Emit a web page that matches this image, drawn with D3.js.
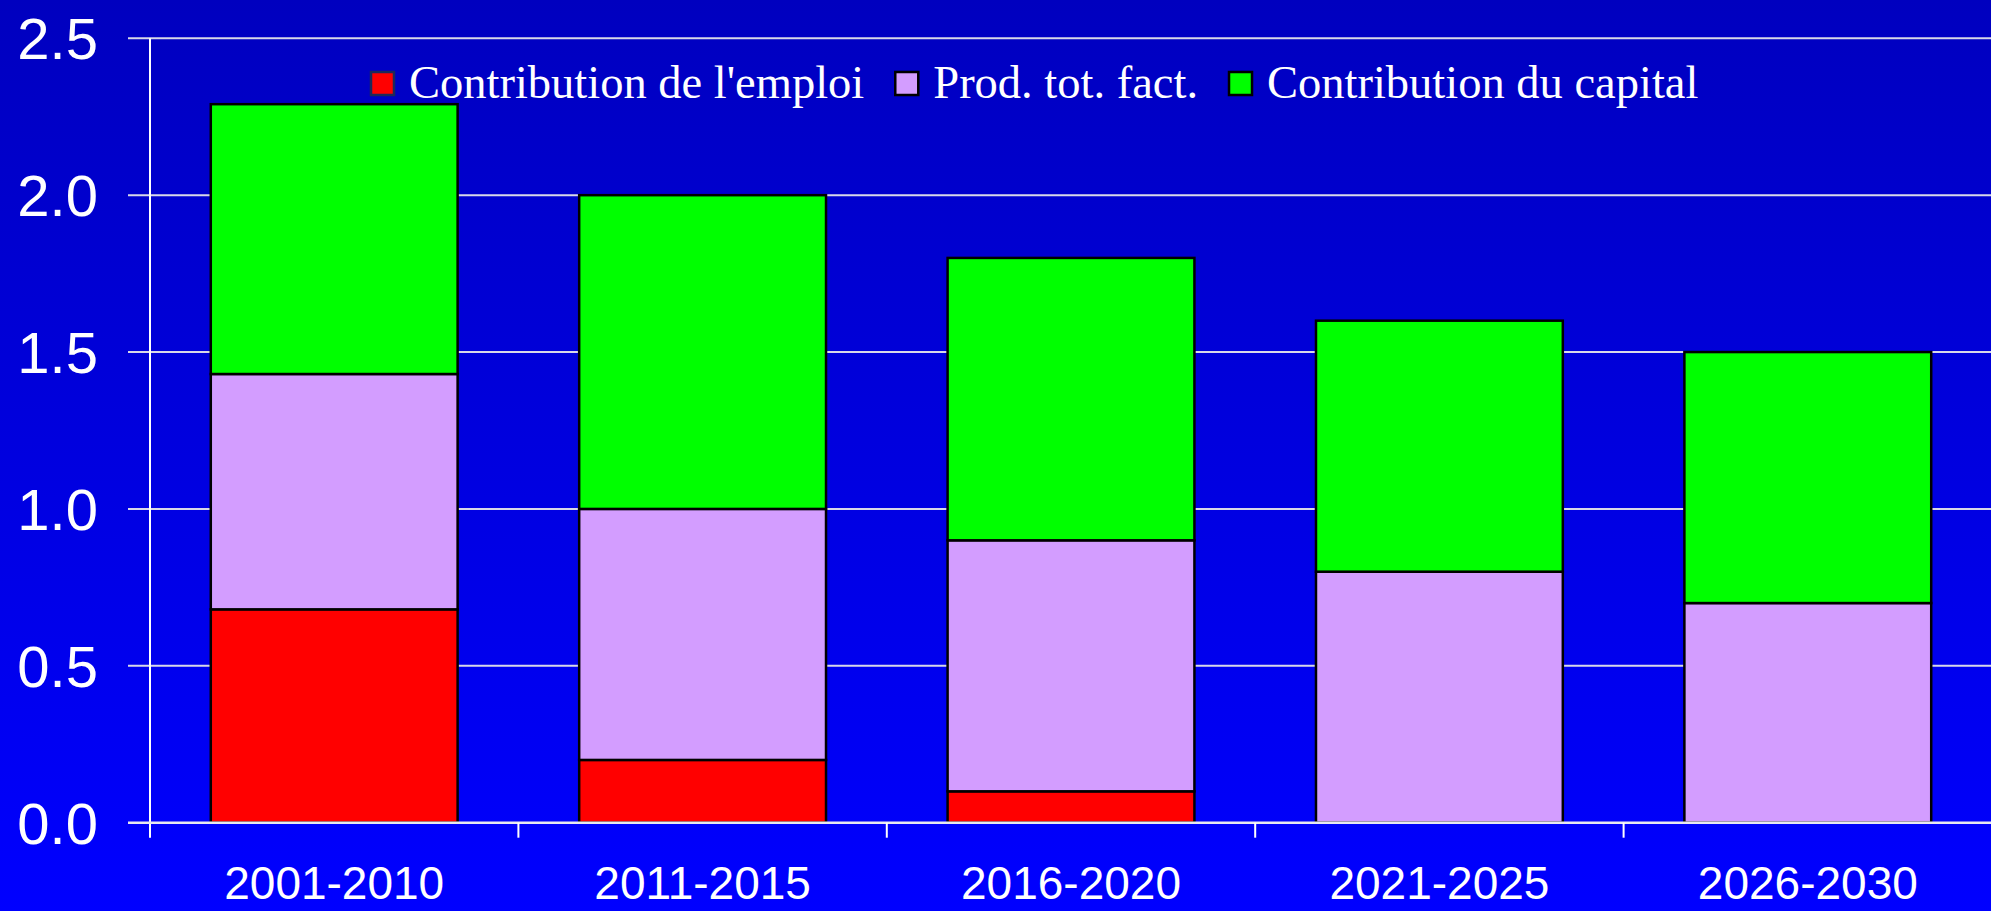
<!doctype html>
<html>
<head>
<meta charset="utf-8">
<style>
  body { margin: 0; overflow: hidden; }
  .tick text { fill: #fff; }
</style>
<script src="https://d3js.org/d3.v7.min.js"></script>
</head>
<body>
<svg width="1991" height="911"></svg>
<script>
// data
var categories = ["2001-2010", "2011-2015", "2016-2020", "2021-2025", "2026-2030"];
var emploi  = [0.68, 0.2, 0.1, 0, 0];
var ptf     = [0.75, 0.8, 0.8, 0.8, 0.7];
var capital = [0.86, 1.0, 0.9, 0.8, 0.8];
var seriesNames = ["Contribution de l'emploi", "Prod. tot. fact.", "Contribution du capital"];
var seriesColors = ["#ff0000", "#d39dff", "#00ff00"];
var yTicks = [0, 0.5, 1.0, 1.5, 2.0, 2.5];

var svg = d3.select("svg"),
    W = 1991, H = 911,
    plotLeft = 150, plotRight = 1992, plotTop = 38.3, plotBottom = 822.7;

// background: dark blue at the top to pure blue at the bottom
var defs = svg.append("defs");
var grad = defs.append("linearGradient").attr("id", "bg")
    .attr("x1", 0).attr("y1", 0).attr("x2", 0).attr("y2", 1);
grad.append("stop").attr("offset", "0%").attr("stop-color", "#0000bf");
grad.append("stop").attr("offset", "100%").attr("stop-color", "#0000ff");
svg.append("rect").attr("width", W).attr("height", H).attr("fill", "url(#bg)");

var x = d3.scaleBand().domain(categories).range([plotLeft, plotRight]).padding(0);
var y = d3.scaleLinear().domain([0, 2.5]).range([plotBottom, plotTop]);

// grid lines
svg.append("g").selectAll("line")
    .data(yTicks.filter(function(d) { return d > 0; }))
    .enter().append("line")
    .attr("x1", plotLeft - 22).attr("x2", W)
    .attr("y1", function(d) { return y(d); })
    .attr("y2", function(d) { return y(d); })
    .attr("stroke", "#d8d8e8").attr("stroke-width", 2);

// stacked bars
var table = categories.map(function(c, i) {
    return { cat: c, emploi: emploi[i], ptf: ptf[i], capital: capital[i] };
});
var keys = ["emploi", "ptf", "capital"];
var stacked = d3.stack().keys(keys)(table);
var inset = x.bandwidth() * 0.165;

svg.append("g").selectAll("g")
    .data(stacked)
    .enter().append("g")
    .attr("fill", function(d, i) { return seriesColors[i]; })
    .selectAll("rect")
    .data(function(d) { return d.filter(function(p) { return p[1] - p[0] > 0; }); })
    .enter().append("rect")
    .attr("x", function(d) { return x(d.data.cat) + inset; })
    .attr("width", x.bandwidth() - 2 * inset)
    .attr("y", function(d) { return y(d[1]); })
    .attr("height", function(d) { return y(d[0]) - y(d[1]); })
    .attr("stroke", "#000").attr("stroke-width", 2.5);

// y axis
var yAxis = svg.append("g")
    .attr("transform", "translate(" + plotLeft + ",0)")
    .call(d3.axisLeft(y).tickValues(yTicks).tickFormat(d3.format(".1f"))
        .tickSize(0).tickPadding(52));
yAxis.select(".domain").remove();
yAxis.selectAll("text")
    .attr("font-family", "Liberation Sans, Arial, sans-serif")
    .attr("font-size", 58).attr("dy", "0.35em");
svg.append("line")
    .attr("x1", plotLeft).attr("x2", plotLeft)
    .attr("y1", plotTop).attr("y2", plotBottom + 15)
    .attr("stroke", "#fff").attr("stroke-width", 2);

// x axis
var xAxis = svg.append("g")
    .attr("transform", "translate(0," + plotBottom + ")")
    .call(d3.axisBottom(x).tickSize(0).tickPadding(44));
xAxis.select(".domain").remove();
xAxis.selectAll("text")
    .attr("font-family", "Liberation Sans, Arial, sans-serif")
    .attr("font-size", 46);
svg.append("line")
    .attr("x1", plotLeft - 22).attr("x2", W)
    .attr("y1", plotBottom).attr("y2", plotBottom)
    .attr("stroke", "#e8e8f0").attr("stroke-width", 2.5);
svg.append("g").selectAll("line")
    .data(categories.slice(1))
    .enter().append("line")
    .attr("x1", function(d) { return x(d); })
    .attr("x2", function(d) { return x(d); })
    .attr("y1", plotBottom).attr("y2", plotBottom + 15)
    .attr("stroke", "#fff").attr("stroke-width", 2);

// legend
var lg = svg.append("g").attr("transform", "translate(371,0)");
var cx = 0;
seriesNames.forEach(function(name, i) {
    lg.append("rect")
        .attr("x", cx).attr("y", 72).attr("width", 23).attr("height", 23)
        .attr("fill", seriesColors[i])
        .attr("stroke", i === 0 ? "#1c2a5a" : "#000").attr("stroke-width", 2.5);
    var t = lg.append("text")
        .attr("x", cx + 38).attr("y", 98)
        .attr("font-family", "Liberation Serif, Times New Roman, serif")
        .attr("font-size", 46.5).attr("fill", "#fff")
        .text(name);
    cx += 38 + t.node().getComputedTextLength() + 31;
});
</script>
</body>
</html>
